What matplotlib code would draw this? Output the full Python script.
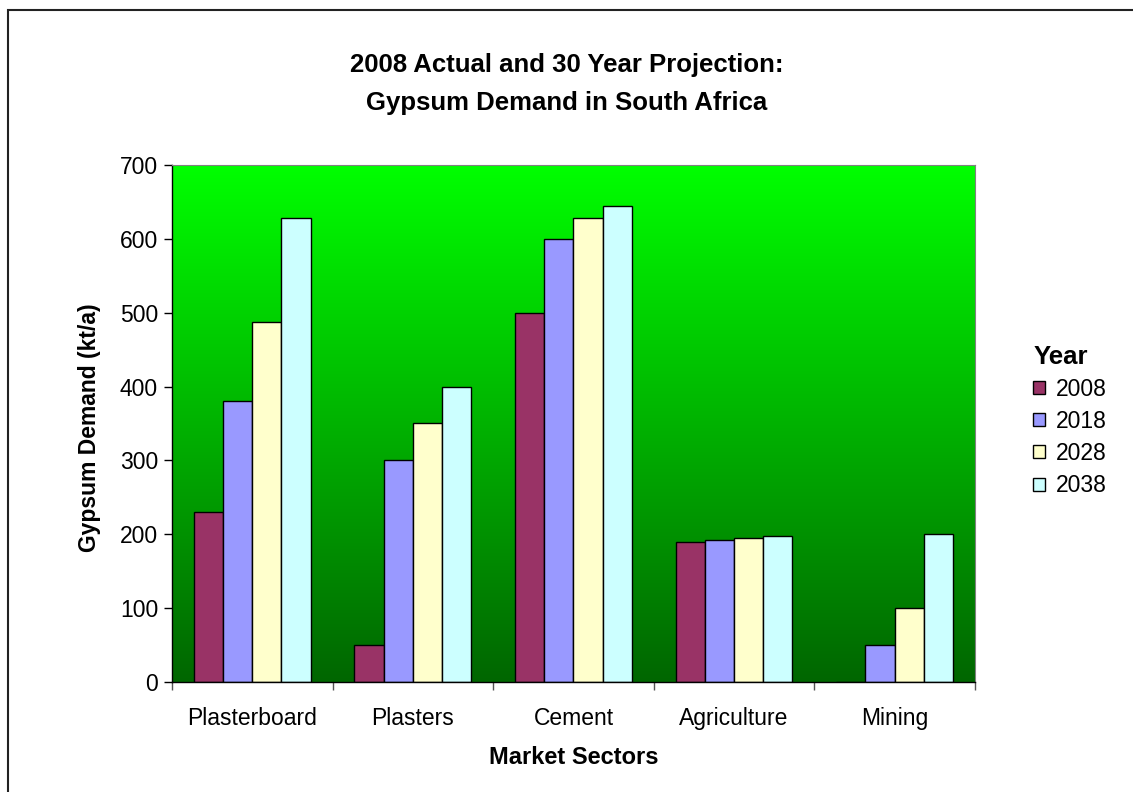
import numpy as np
import matplotlib.pyplot as plt
from matplotlib.patches import Rectangle, Patch
from matplotlib.colors import LinearSegmentedColormap

plt.rcParams['font.family'] = ['Liberation Sans', 'DejaVu Sans']

# data
sectors = ['Plasterboard', 'Plasters', 'Cement', 'Agriculture', 'Mining']
years = ['2008', '2018', '2028', '2038']
d2008 = [230, 50, 500, 190, 0]
d2018 = [380, 300, 600, 192, 50]
d2028 = [487, 350, 628, 195, 100]
d2038 = [628, 400, 645, 197, 200]
colors = ['#993366', '#9999FF', '#FFFFCC', '#CCFFFF']

fig = plt.figure(figsize=(11.33, 7.92), dpi=100)
ax = fig.add_axes([0.1518, 0.1389, 0.7087, 0.6528])

# green gradient background
grad = LinearSegmentedColormap.from_list('g', ['#006600', '#00FF00'])
ax.imshow(np.linspace(0, 1, 256).reshape(-1, 1), cmap=grad, aspect='auto',
          extent=[0, 5, 0, 700], origin='lower', zorder=0)

w = 1 / 5.5
x = np.arange(len(sectors)) + 0.5
series = [d2008, d2018, d2028, d2038]
for i, vals in enumerate(series):
    ax.bar(x + (i - 1.5) * w, vals, width=w, color=colors[i],
           edgecolor='black', linewidth=1, zorder=2, label=years[i])

ax.set_xlim(0, 5)
ax.set_ylim(0, 700)
ax.set_yticks(range(0, 701, 100))
ax.tick_params(axis='y', labelsize=16.5, length=6, width=1, pad=4)
ax.set_xticks(range(0, 6))
ax.set_xticklabels([])
ax.tick_params(axis='x', which='major', length=6, width=1, colors='#555555')
ax.set_xticks(x, minor=True)
ax.set_xticklabels(sectors, minor=True)
ax.tick_params(axis='x', which='minor', length=0, labelsize=16.5, pad=18)
for s in ['top', 'right']:
    ax.spines[s].set_color('#808080')
for s in ['left', 'bottom']:
    ax.spines[s].set_color('black')
    ax.spines[s].set_linewidth(1)

fig.text(0.5, 0.894, '2008 Actual and 30 Year Projection:\nGypsum Demand in South Africa',
         ha='center', va='center', fontsize=18.5, fontweight='bold', linespacing=1.7)
fig.text(0.0794, 0.4596, 'Gypsum Demand (kt/a)', rotation=90, ha='center', va='center',
         fontsize=16.5, fontweight='bold')
fig.text(0.506, 0.0436, 'Market Sectors', ha='center', va='center',
         fontsize=17, fontweight='bold')

handles = [Patch(facecolor=c, edgecolor='black', linewidth=1) for c in colors]
leg = fig.legend(handles, years, loc='upper left', bbox_to_anchor=(0.912, 0.565),
                 frameon=False, fontsize=16.5, title='Year',
                 title_fontproperties={'weight': 'bold', 'size': 18.5},
                 handlelength=0.5, handleheight=0.5, handletextpad=0.5,
                 labelspacing=0.4, borderpad=0, borderaxespad=0)
leg._legend_box.align = 'left'

# outer chart border (left and top edges visible)
fig.patches.append(Rectangle((0.0071, -0.2), 1.5, 0.9874 + 0.2, transform=fig.transFigure,
                             fill=False, edgecolor='#222222', linewidth=1.5))

fig.savefig('out.png', dpi=100)
